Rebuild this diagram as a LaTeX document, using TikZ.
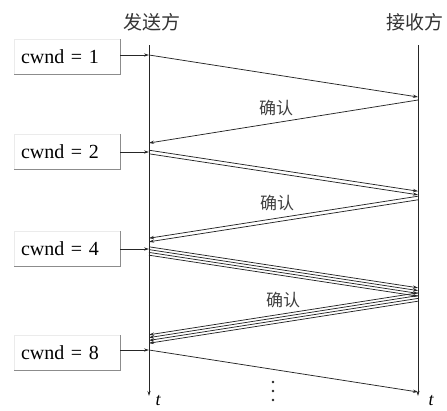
\documentclass[tikz,border=0pt]{standalone}
\usepackage{fontspec}
\setmainfont{Liberation Serif}
\newfontfamily\cjk{Noto Sans CJK SC}
\usetikzlibrary{arrows.meta}
\begin{document}
\begin{tikzpicture}[x=1pt,y=-1pt,
  axis/.style={draw=black!85,line width=0.8pt},
  msg/.style={draw=black!85,line width=0.75pt,-{Stealth[length=5pt,width=3.2pt]}},
  cwbox/.style={minimum height=35pt,text width=92pt,inner xsep=7pt,inner ysep=0pt,align=left,font=\fontsize{20}{22}\selectfont},
  shade/.style={draw=black!45,line width=0.9pt},
  head/.style={font=\cjk\fontsize{19}{21}\selectfont,text=black!80},
  ack/.style={font=\cjk\fontsize{17}{19}\selectfont,text=black!75}]
\useasboundingbox (0,0) rectangle (447,410);
% headers
\node[head] (hs) at (152,22) {发送方};
\node[head,anchor=east] (hr) at (447,22) {接收方};
% time axes
\coordinate (st) at (149,45);
\coordinate (sb) at (149,396);
\coordinate (rt) at (418,45);
\coordinate (rb) at (418,396);
\draw[axis,-{Stealth[length=5pt,width=3pt]}] (st) -- (sb);
\draw[axis,-{Stealth[length=5pt,width=3pt]}] (rt) -- (rb);
\node[font=\itshape\fontsize{18}{20}\selectfont] (ts) at (158,401) {t};
\node[font=\itshape\fontsize{18}{20}\selectfont] (tr) at (431,401) {t};
% cwnd boxes
\node[cwbox] (b1) at (67,57) {cwnd = 1};
\node[cwbox] (b2) at (67,152) {cwnd = 2};
\node[cwbox] (b4) at (67,249) {cwnd = 4};
\node[cwbox] (b8) at (67,353) {cwnd = 8};
\foreach \b in {b1,b2,b4,b8}{
  \draw[draw=black!8] (\b.south west) -- (\b.north west) -- (\b.north east);
  \draw[shade] (\b.north east) -- (\b.south east) -- (\b.south west);
}
% points on axes
\coordinate (s1) at (149,55);  \coordinate (r1) at (418,97);
\coordinate (r1b) at (418,100); \coordinate (s1b) at (149,143);
\coordinate (s2) at (149,152); \coordinate (r2) at (418,193);
\coordinate (r2b) at (418,198); \coordinate (s2b) at (149,240);
\coordinate (s4) at (149,251); \coordinate (r4) at (418,292);
\coordinate (r4b) at (418,297); \coordinate (s4b) at (149,339);
\coordinate (s8) at (149,350); \coordinate (r8) at (418,392);
% cwnd arrows
\draw[msg] (b1.east |- s1) -- (s1);
\draw[msg] (b2.east |- s2) -- (s2);
\draw[msg] (b4.east) -- (b4.east -| st);
\draw[msg] (b8.east |- s8) -- (s8);
% segments
\draw[msg] (s1) -- (r1);
\draw[msg] (r1b) -- (s1b);
\foreach \o in {1.8,-1.8}{
  \draw[msg] ([yshift=\o pt]s2) -- ([yshift=\o pt]r2);
  \draw[msg] ([yshift=\o pt]r2b) -- ([yshift=\o pt]s2b);
}
\foreach \o in {4.2,1.4,-1.4,-4.2}{
  \draw[msg] ([yshift=\o pt]s4) -- ([yshift=\o pt]r4);
  \draw[msg] ([yshift=\o pt]r4b) -- ([yshift=\o pt]s4b);
}
\draw[msg] (s8) -- (r8);
% ack labels
\node[ack] (a1) at (276,108) {确认};
\node[ack] (a2) at (277,203) {确认};
\node[ack] (a4) at (283,300) {确认};
% dots
\foreach \yy [count=\i] in {382,391,400}{
  \fill[black!85] (273,\yy) circle (1.4pt) coordinate (d\i);
}
\end{tikzpicture}
\end{document}
